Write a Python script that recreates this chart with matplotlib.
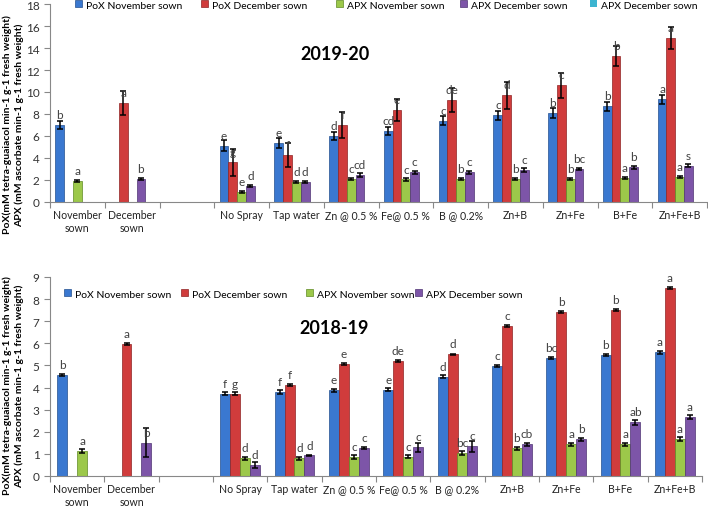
import numpy as np
import matplotlib.pyplot as plt

plt.rcParams['font.family'] = ['Lato', 'DejaVu Sans']

nan = np.nan

categories = ['November\nsown', 'December\nsown', '', 'No Spray', 'Tap water', 'Zn @ 0.5 %',
              'Fe@ 0.5 %', 'B @ 0.2%', 'Zn+B', 'Zn+Fe', 'B+Fe', 'Zn+Fe+B']
series_names = ['PoX November sown', 'PoX December sown', 'APX November sown',
                'APX December sown', 'APX December sown']
colors = ['#3a78d0', '#d03c3c', '#9cc84a', '#7d55a8', '#3cb4d0']
edges = ['#24508f', '#8f2424', '#5f8a23', '#4f3473', '#24768f']

# ---- 2019-20 ----
pox_nov_20 = [7.0, nan, nan, 5.1, 5.35, 6.0, 6.45, 7.4, 7.9, 8.1, 8.7, 9.35]
pox_dec_20 = [nan, 9.0, nan, 3.6, 4.3, 7.0, 8.35, 9.3, 9.7, 10.6, 13.3, 14.9]
apx_nov_20 = [1.9, nan, nan, 0.9, 1.8, 2.1, 2.05, 2.1, 2.1, 2.1, 2.2, 2.3]
apx_dec_20 = [nan, 2.1, nan, 1.45, 1.8, 2.45, 2.7, 2.7, 2.9, 3.0, 3.15, 3.3]
apx_dec2_20 = [0, 0, 0, 0, 0, 0, 0, 0, 0, 0, 0, 0]

pox_nov_20_err = [0.4, nan, nan, 0.5, 0.45, 0.4, 0.4, 0.4, 0.4, 0.45, 0.4, 0.4]
pox_dec_20_err = [nan, 1.1, nan, 1.2, 1.1, 1.2, 1.0, 1.1, 1.2, 1.1, 0.9, 1.0]
apx_nov_20_err = [0.1, nan, nan, 0.08, 0.08, 0.1, 0.1, 0.08, 0.08, 0.08, 0.1, 0.1]
apx_dec_20_err = [nan, 0.1, nan, 0.08, 0.1, 0.15, 0.15, 0.15, 0.15, 0.12, 0.12, 0.12]

pox_nov_20_let = ['b', '', '', 'e', 'e', 'd', 'cd', 'c', 'c', 'b', 'b', 'a']
pox_dec_20_let = ['', 'a', '', 'g', 'f', 'f', 'e', 'de', 'd', 'c', 'b', 'a']
apx_nov_20_let = ['a', '', '', 'e', 'd', 'c', 'c', 'b', 'b', 'b', 'a', 'a']
apx_dec_20_let = ['', 'b', '', 'd', 'd', 'cd', 'c', 'c', 'c', 'bc', 'b', 's']

# ---- 2018-19 ----
pox_nov_19 = [4.57, nan, nan, 3.73, 3.8, 3.88, 3.9, 4.5, 4.97, 5.33, 5.47, 5.6]
pox_dec_19 = [nan, 5.97, nan, 3.73, 4.1, 5.05, 5.2, 5.5, 6.8, 7.4, 7.5, 8.5]
apx_nov_19 = [1.13, nan, nan, 0.8, 0.8, 0.87, 0.88, 1.03, 1.25, 1.43, 1.43, 1.67]
apx_dec_19 = [nan, 1.5, nan, 0.5, 0.93, 1.25, 1.3, 1.35, 1.43, 1.67, 2.43, 2.67]

pox_nov_19_err = [0.06, nan, nan, 0.06, 0.07, 0.07, 0.06, 0.06, 0.06, 0.06, 0.06, 0.06]
pox_dec_19_err = [nan, 0.06, nan, 0.06, 0.05, 0.05, 0.04, 0.04, 0.05, 0.05, 0.06, 0.05]
apx_nov_19_err = [0.1, nan, nan, 0.08, 0.08, 0.09, 0.08, 0.08, 0.07, 0.08, 0.08, 0.08]
apx_dec_19_err = [nan, 0.65, nan, 0.15, 0.04, 0.04, 0.2, 0.25, 0.08, 0.07, 0.12, 0.07]

pox_nov_19_let = ['b', '', '', 'f', 'f', 'e', 'e', 'd', 'c', 'bc', 'b', 'a']
pox_dec_19_let = ['', 'a', '', 'g', 'f', 'e', 'de', 'd', 'c', 'b', 'b', 'a']
apx_nov_19_let = ['a', '', '', 'd', 'd', 'c', 'c', 'bc', 'b', 'a', 'a', 'a']
apx_dec_19_let = ['', 'b', '', 'd', 'd', 'c', 'c', 'c', 'cb', 'b', 'ab', 'a']

W, H = 708, 510
fig = plt.figure(figsize=(W / 100, H / 100), dpi=100)
ax1 = fig.add_axes([50 / W, 1 - 203 / H, 657 / W, 198 / H])
ax2 = fig.add_axes([50 / W, 1 - 477 / H, 652 / W, 199 / H])

idx = np.arange(len(categories))


def draw(ax, vals, errs, lets, width, offsets, ymax, ystep, nseries_legend):
    handles = []
    for k in range(nseries_legend):
        x = idx + offsets[k]
        if k < len(vals):
            b = ax.bar(x, vals[k], width, color=colors[k], edgecolor=edges[k],
                       linewidth=0.5, zorder=2)
            ax.errorbar(x, vals[k], yerr=errs[k], fmt='none', ecolor='black',
                        elinewidth=1.1, capsize=2.3, capthick=1.1, zorder=3)
            for xi, v, t in zip(x, vals[k], lets[k]):
                if t:
                    ax.annotate(t, (xi, v), xytext=(0, 7.5), textcoords='offset points',
                                ha='center', va='center', fontsize=8.5, color='#404040')
        else:
            b = ax.bar(x, apx_dec2_20, width, color=colors[k], linewidth=0, zorder=2)
        handles.append(b)
    ax.set_xlim(0, len(categories))
    ax.set_ylim(0, ymax)
    ax.set_yticks(np.arange(0, ymax + 0.01, ystep))
    ax.set_xticks(np.arange(0, len(categories) + 1))
    ax.set_xticklabels([])
    ax.set_xticks(idx + 0.5, minor=True)
    ax.set_xticklabels(categories, minor=True, fontsize=7.6, color='#222222')
    ax.tick_params(axis='x', which='minor', length=0, pad=5)
    ax.tick_params(axis='x', which='major', length=4, color='#888888')
    ax.tick_params(axis='y', length=4, color='#888888', labelsize=8.5, labelcolor='#333333')
    for s in ['top', 'right']:
        ax.spines[s].set_visible(False)
    for s in ['left', 'bottom']:
        ax.spines[s].set_color('#888888')
    return handles


def legend_row(handles, names, xs, y):
    # one small legend per entry so each sits where it does in the original
    for h, name, x in zip(handles, names, xs):
        fig.legend([h], [name], loc='center left', bbox_to_anchor=(x / W, 1 - y / H),
                   frameon=False, fontsize=7.5, handlelength=0.65, handleheight=0.65,
                   handletextpad=0.4, borderaxespad=0, borderpad=0)


top_vals = [pox_nov_20, pox_dec_20, apx_nov_20, apx_dec_20]
top_errs = [pox_nov_20_err, pox_dec_20_err, apx_nov_20_err, apx_dec_20_err]
top_lets = [pox_nov_20_let, pox_dec_20_let, apx_nov_20_let, apx_dec_20_let]
w1 = 0.16
h1 = draw(ax1, top_vals, top_errs, top_lets, w1, [0.1 + w1 / 2 + w1 * k for k in range(5)], 18, 2, 5)

bot_vals = [pox_nov_19, pox_dec_19, apx_nov_19, apx_dec_19]
bot_errs = [pox_nov_19_err, pox_dec_19_err, apx_nov_19_err, apx_dec_19_err]
bot_lets = [pox_nov_19_let, pox_dec_19_let, apx_nov_19_let, apx_dec_19_let]
w2 = 0.184
h2 = draw(ax2, bot_vals, bot_errs, bot_lets, w2, [0.5 + (k - 1.5) * w2 for k in range(4)], 9, 1, 4)

legend_row(h1, series_names, [75, 201, 336, 460, 590], 6)
legend_row(h2, series_names[:4], [64, 181, 306, 415], 295)

fig.text(335 / W, 1 - 54 / H, '2019-20', fontsize=13, fontweight='bold', ha='center', va='center')
fig.text(334 / W, 1 - 328 / H, '2018-19', fontsize=13, fontweight='bold', ha='center', va='center')

ylab = 'PoX(mM tetra-guaiacol min-1 g-1 fresh weight)\nAPX (mM ascorbate min-1 g-1 fresh weight)'
fig.text(13 / W, 1 - 125 / H, ylab, rotation=90, ha='center', va='center',
         fontsize=7.5, fontweight='bold', linespacing=1.3)
fig.text(13 / W, 1 - 386 / H, ylab, rotation=90, ha='center', va='center',
         fontsize=7.5, fontweight='bold', linespacing=1.3)

fig.savefig('out.png', dpi=100)
